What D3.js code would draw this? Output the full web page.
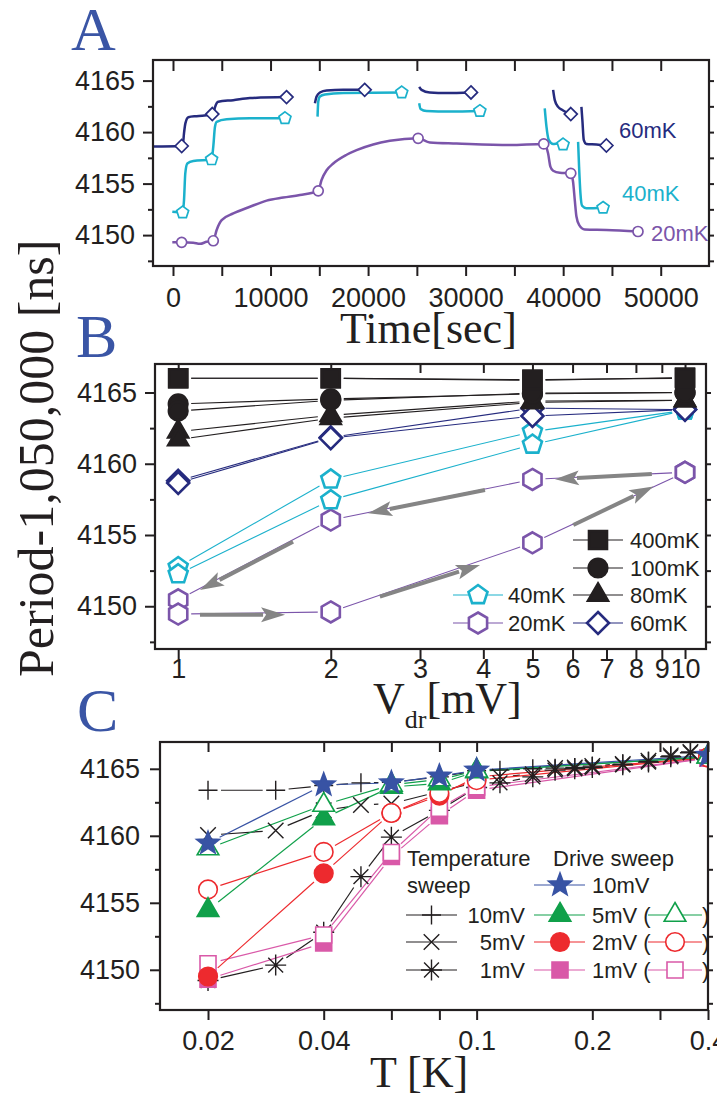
<!DOCTYPE html>
<html>
<head>
<meta charset="utf-8">
<script src="https://cdnjs.cloudflare.com/ajax/libs/d3/7.8.5/d3.min.js"></script>
<style>
  body { margin: 0; background: #fff; }
  svg { display: block; }
  .tick text { font-family: "Liberation Sans", Arial, sans-serif; font-size: 27px; fill: #231f20; }
  .tick line { stroke: #231f20; stroke-width: 2; }
  .lbl { font-family: "Liberation Sans", Arial, sans-serif; font-size: 22px; }
  .serif { font-family: "Liberation Serif", "Times New Roman", serif; fill: #231f20; }
</style>
</head>
<body>
<svg id="chart" width="717" height="1093"></svg>
<script>
// ---------------- data ----------------
// Panel A: period vs time, one array of segments per temperature
const a60Segments = [
  [[-2050,4158.6],[890,4158.65],[1000,4158.7],[1130,4159.9],[1270,4160.85],[1570,4161.45],[2420,4161.55],[3780,4161.65],[4130,4161.8],[4300,4162.4],[4640,4162.95],[6170,4163.1],[7880,4163.3],[11640,4163.4]],
  [[14550,4162.8],[14720,4163.45],[15060,4163.85],[15750,4164.05],[17450,4164.1],[19650,4164.1]],
  [[25240,4164.4],[25480,4164.1],[26330,4163.85],[28040,4163.8],[30550,4163.85]],
  [[38970,4164.1],[39140,4163.1],[39480,4162.45],[39990,4162.1],[40780,4161.75]],
  [[41870,4162.45],[41970,4161.15],[42110,4159.25],[42380,4158.85],[43410,4158.8],[44430,4158.7]]
];
const a60Marks = [[890,4158.65],[4030,4161.75],[11640,4163.4],[19650,4164.1],[30550,4163.85],[40780,4161.75],[44430,4158.7]];

const a40Segments = [
  [[-70,4152.27],[990,4152.2],[1130,4153.4],[1260,4156.0],[1470,4156.95],[2080,4157.2],[3960,4157.35],[4130,4158.6],[4300,4160.5],[4475,4161.0],[5500,4161.25],[7890,4161.35],[11480,4161.35]],
  [[14820,4161.5],[14890,4162.95],[15060,4163.45],[15570,4163.65],[17450,4163.8],[23450,4163.85]],
  [[25240,4162.8],[25380,4162.25],[25990,4162.05],[28380,4162.0],[31460,4162.05]],
  [[38110,4162.3],[38290,4160.5],[38520,4159.25],[38970,4158.85],[39480,4158.9],[39990,4158.8]],
  [[41530,4159.05],[41630,4156.65],[41770,4154.05],[41940,4152.85],[42390,4152.6],[44090,4152.65]]
];
const a40Marks = [[990,4152.2],[3960,4157.35],[11480,4161.35],[23450,4163.85],[31460,4162.05],[39990,4158.8],[44090,4152.65]];

const a20Segments = [
  [[-70,4149.3],[890,4149.3],[2080,4149.25],[2770,4149.15],[3450,4149.35],[4130,4149.45],[4475,4150.5],[4990,4151.45],[6180,4152.1],[7890,4152.75],[9600,4153.35],[11300,4153.65],[13010,4153.9],[14890,4154.3],[15230,4155.35],[15750,4156.3],[16430,4156.95],[17800,4157.8],[18820,4158.25],[20520,4158.8],[22230,4159.15],[25130,4159.4],[26330,4159.0],[29070,4158.9],[34530,4158.75],[38010,4158.85],[38450,4157.95],[38690,4156.65],[38970,4156.25],[39650,4156.05],[40780,4156.0],[41010,4155.2],[41190,4153.4],[41360,4151.8],[41630,4151.0],[42210,4150.55],[44430,4150.5],[47670,4150.35]]
];
const a20Marks = [[890,4149.3],[4130,4149.45],[14890,4154.3],[25130,4159.4],[38010,4158.85],[40780,4156.0],[47670,4150.35]];
const aLabels = ["60mK", "40mK", "20mK"];

// Panel B: period vs drive voltage, up and down sweeps
const bVolts = [1, 2, 5, 10];
const b400Up = [4166.0, 4166.0, 4165.9, 4166.0];
const b400Down = [4166.0, 4166.0, 4165.85, 4166.05];
const b100Up = [4163.7, 4164.45, 4164.95, 4165.0];
const b100Down = [4164.2, 4164.55, 4164.9, 4165.0];
const b80Up = [4161.7, 4163.2, 4164.3, 4164.45];
const b80Down = [4162.25, 4163.4, 4164.4, 4164.45];
const b60Up = [4158.65, 4161.8, 4163.35, 4163.8];
const b60Down = [4158.8, 4161.85, 4163.9, 4163.8];
const b40Up = [4152.25, 4157.45, 4161.35, 4163.75];
const b40Down = [4152.75, 4158.9, 4162.25, 4163.75];
const b20Up = [4149.45, 4149.6, 4154.45, 4159.4];
const b20Down = [4150.45, 4156.05, 4158.9, 4159.4];
const bArrows = [
  [[1.104, 4149.4], [1.625, 4149.4]],
  [[2.50, 4150.67], [3.94, 4152.9]],
  [[6.02, 4155.7], [8.66, 4158.4]],
  [[8.60, 4159.28], [5.54, 4158.92]],
  [[4.03, 4158.16], [2.37, 4156.52]],
  [[1.685, 4154.53], [1.104, 4151.14]]
];
const bLegendLabels = ["400mK", "100mK", "40mK", "80mK", "20mK", "60mK"];

// Panel C: period vs temperature
const cTemps = [0.02, 0.04, 0.06, 0.08, 0.1, 0.4];
const c10Drive = [4159.45, 4163.8, 4163.95, 4164.45, 4164.9, 4166.0];
const c5Up = [4154.45, 4161.3, 4163.65, 4163.9, 4164.8, 4165.9];
const c5Down = [4159.05, 4162.3, 4163.8, 4164.2, 4164.85, 4165.9];
const c2Up = [4149.5, 4157.2, 4161.7, 4163.0, 4164.4, 4165.85];
const c2Down = [4156.0, 4158.8, 4161.7, 4163.2, 4164.15, 4165.85];
const c1Up = [4149.3, 4152.0, 4158.45, 4161.5, 4163.4, 4165.8];
const c1Down = [4150.45, 4152.6, 4158.75, 4162.05, 4163.65, 4165.8];

const cSweepT = [0.02, 0.03, 0.04, 0.05, 0.06, 0.08, 0.1, 0.115, 0.14, 0.16, 0.18, 0.2, 0.24, 0.28, 0.32, 0.36];
const cTs10 = [4163.4, 4163.4, 4163.75, 4163.95, 4164.0, 4164.4, 4164.85, 4164.9, 4165.0, 4165.05, 4165.1, 4165.2, 4165.35, 4165.55, 4165.95, 4166.25];
const cTs5 = [4160.05, 4160.4, 4161.9, 4162.3, 4162.4, 4163.3, 4164.0, 4164.4, 4164.6, 4165.05, 4165.1, 4165.2, 4165.35, 4165.6, 4166.0, 4166.25];
const cTs1 = [4149.2, 4150.35, 4152.8, 4156.95, 4159.9, 4161.9, 4163.6, 4163.95, 4164.4, 4164.9, 4165.0, 4165.1, 4165.3, 4165.5, 4165.9, 4166.2];
const cTickLabels = [0.02, 0.04, 0.1, 0.2, 0.4];
const cLegendTemp = ["10mV", "5mV", "1mV"];
const cLegendDrive = ["10mV", "5mV (", "2mV (", "1mV ("];

// ---------------- styles ----------------
const ink = "#231f20", navy = "#262b7e", cyan = "#1bb1cc", purple = "#7b55aa";
const blue = "#3853a4", green = "#10a04a", red = "#ed2a2e", pink = "#d959a8", arrowGray = "#858585";
const letterBlue = "#3a55a5";

const svg = d3.select("#chart");

function polygon(n, r) {
  const pts = d3.range(n).map(i => {
    const a = -Math.PI / 2 + i * 2 * Math.PI / n;
    return [r * Math.cos(a), r * Math.sin(a)];
  });
  return "M" + pts.map(p => p.join(",")).join("L") + "Z";
}

function markerPath(shape, r) {
  const d = r * Math.SQRT1_2;
  switch (shape) {
    case "square": return `M${-r},${-r}H${r}V${r}H${-r}Z`;
    case "circle": return `M${r},0A${r},${r} 0 1,1 ${-r},0A${r},${r} 0 1,1 ${r},0Z`;
    case "triangle": return polygon(3, r);
    case "diamond": return polygon(4, r);
    case "pentagon": return polygon(5, r);
    case "hexagon": return polygon(6, r);
    case "star": {
      const pts = d3.range(10).map(i => {
        const a = -Math.PI / 2 + i * Math.PI / 5, rr = i % 2 ? r * 0.42 : r;
        return [rr * Math.cos(a), rr * Math.sin(a)];
      });
      return "M" + pts.map(p => p.join(",")).join("L") + "Z";
    }
    case "plus": return `M${-r},0H${r}M0,${-r}V${r}`;
    case "cross": return `M${-d},${-d}L${d},${d}M${-d},${d}L${d},${-d}`;
    case "asterisk": return `M${-r},0H${r}M0,${-r}V${r}M${-d},${-d}L${d},${d}M${-d},${d}L${d},${-d}`;
  }
}

function marker(g, x, y, shape, r, color, filled, sw) {
  const lineOnly = shape === "plus" || shape === "cross" || shape === "asterisk";
  g.append("path")
    .attr("transform", `translate(${x},${y})`)
    .attr("d", markerPath(shape, r))
    .attr("fill", lineOnly ? "none" : (filled ? color : "#fff"))
    .attr("stroke", color)
    .attr("stroke-width", sw);
  if (shape === "asterisk") {
    g.append("circle").attr("cx", x).attr("cy", y).attr("r", 1.6).attr("fill", color);
  }
}

// straight segments that stop short of the markers
function gapLines(g, pts, gap, color, width) {
  for (let i = 0; i < pts.length - 1; i++) {
    const [x1, y1] = pts[i], [x2, y2] = pts[i + 1];
    const len = Math.hypot(x2 - x1, y2 - y1);
    if (len <= 2 * gap) continue;
    const ux = (x2 - x1) / len, uy = (y2 - y1) / len;
    g.append("line")
      .attr("x1", x1 + ux * gap).attr("y1", y1 + uy * gap)
      .attr("x2", x2 - ux * gap).attr("y2", y2 - uy * gap)
      .attr("stroke", color).attr("stroke-width", width);
  }
}

function frame(box) {
  svg.append("rect")
    .attr("x", box.left).attr("y", box.top)
    .attr("width", box.right - box.left).attr("height", box.bottom - box.top)
    .attr("fill", "none").attr("stroke", ink).attr("stroke-width", 2.2);
}

function drawAxes(box, x, y, o) {
  const noDomain = g => g.select(".domain").remove();
  svg.append("g")
    .attr("transform", `translate(0,${box.bottom})`)
    .call(d3.axisBottom(x).tickValues(o.xTicks).tickSize(10).tickPadding(o.xPad).tickFormat(o.xFormat))
    .call(noDomain);
  svg.append("g")
    .attr("transform", `translate(0,${box.top})`)
    .call(d3.axisBottom(x).tickValues(o.xTicks).tickSize(o.topTick).tickFormat(""))
    .call(noDomain);
  svg.append("g")
    .attr("transform", `translate(${box.left},0)`)
    .call(d3.axisLeft(y).tickValues(o.yMajor).tickSize(10).tickPadding(o.yPad).tickFormat(d3.format("d")))
    .call(noDomain);
  svg.append("g")
    .attr("transform", `translate(${box.left},0)`)
    .call(d3.axisLeft(y).tickValues(o.yMinor).tickSize(5).tickFormat(""))
    .call(noDomain);
  svg.append("g")
    .attr("transform", `translate(${box.right},0)`)
    .call(d3.axisRight(y).tickValues(o.yMajor.concat(o.yMinor)).tickSize(5).tickFormat(""))
    .call(noDomain);
  svg.selectAll(".tick text").attr("fill", ink);
}

const yMajor = [4150, 4155, 4160, 4165];
const yMinor = [4147.5, 4152.5, 4157.5, 4162.5];

// ---------------- Panel A ----------------
const boxA = {left: 153, right: 709, top: 60, bottom: 266};
const xA = d3.scaleLinear().domain([-2050, 54950]).range([boxA.left, boxA.right]);
const yA = d3.scaleLinear().domain([4147, 4167]).range([boxA.bottom, boxA.top]);

drawAxes(boxA, xA, yA, {
  xTicks: d3.range(0, 50001, 5000), xPad: 12, topTick: 11,
  xFormat: d => d % 10000 === 0 ? d : "",
  yMajor: yMajor, yMinor: yMinor, yPad: 8
});

const lineA = d3.line().x(d => xA(d[0])).y(d => yA(d[1])).curve(d3.curveMonotoneX);
const gA = svg.append("g");
[[a60Segments, navy], [a40Segments, cyan], [a20Segments, purple]].forEach(([segs, color]) => {
  segs.forEach(seg => {
    gA.append("path").datum(seg)
      .attr("d", lineA).attr("fill", "none")
      .attr("stroke", color).attr("stroke-width", 2.5)
      .attr("stroke-linejoin", "round");
  });
});
a60Marks.forEach(d => marker(gA, xA(d[0]), yA(d[1]), "diamond", 6.5, navy, false, 1.7));
a40Marks.forEach(d => marker(gA, xA(d[0]), yA(d[1]), "pentagon", 6.3, cyan, false, 1.7));
a20Marks.forEach(d => marker(gA, xA(d[0]), yA(d[1]), "circle", 5, purple, false, 1.7));

[[619, 138, navy], [622, 201, cyan], [651, 241, purple]].forEach(([x, y, c], i) => {
  svg.append("text").attr("class", "lbl").attr("x", x).attr("y", y).attr("fill", c).text(aLabels[i]);
});
frame(boxA);

svg.append("text").attr("class", "serif").attr("x", 340).attr("y", 343)
  .style("font-size", "44px").text("Time[sec]");

// ---------------- Panel B ----------------
const boxB = {left: 155, right: 706, top: 364, bottom: 649};
const xB = d3.scaleLog().domain([0.9, 11]).range([boxB.left, boxB.right]);
const yB = d3.scaleLinear().domain([4147, 4167]).range([boxB.bottom, boxB.top]);

drawAxes(boxB, xB, yB, {
  xTicks: d3.range(1, 11), xPad: 0, topTick: 9,
  xFormat: d3.format("d"),
  yMajor: yMajor, yMinor: yMinor, yPad: 8
});

const bSeries = [
  {up: b400Up, down: b400Down, color: ink, shape: "square", r: 9, filled: true},
  {up: b100Up, down: b100Down, color: ink, shape: "circle", r: 9.3, filled: true},
  {up: b80Up, down: b80Down, color: ink, shape: "triangle", r: 11.5, filled: true},
  {up: b60Up, down: b60Down, color: navy, shape: "diamond", r: 11, filled: false},
  {up: b40Up, down: b40Down, color: cyan, shape: "pentagon", r: 10, filled: false},
  {up: b20Up, down: b20Down, color: purple, shape: "hexagon", r: 10.5, filled: false}
];
const gB = svg.append("g");
bSeries.forEach(s => {
  [s.up, s.down].forEach(vals => {
    const pts = bVolts.map((v, i) => [xB(v), yB(vals[i])]);
    gapLines(gB, pts, 13, s.color, 1.1);
  });
});

// gray hysteresis arrows
bArrows.forEach(([p0, p1]) => {
  const x0 = xB(p0[0]), y0 = yB(p0[1]), x1 = xB(p1[0]), y1 = yB(p1[1]);
  const len = Math.hypot(x1 - x0, y1 - y0), ux = (x1 - x0) / len, uy = (y1 - y0) / len;
  const head = 24, half = 7.5;
  const bx = x1 - ux * head, by = y1 - uy * head;
  gB.append("line").attr("x1", x0).attr("y1", y0).attr("x2", bx + ux * 2).attr("y2", by + uy * 2)
    .attr("stroke", arrowGray).attr("stroke-width", 4);
  gB.append("path")
    .attr("d", `M${x1},${y1}L${bx - uy * half},${by + ux * half}L${bx + ux * 5},${by + uy * 5}L${bx + uy * half},${by - ux * half}Z`)
    .attr("fill", arrowGray);
});

bSeries.slice().reverse().forEach(s => {
  [s.down, s.up].forEach(vals => {
    bVolts.forEach((v, i) => marker(gB, xB(v), yB(vals[i]), s.shape, s.r, s.color, s.filled, 2.6));
  });
});

// legend B
const bLegendSlots = [
  {s: 0, col: 1, row: 0}, {s: 1, col: 1, row: 1}, {s: 4, col: 0, row: 2},
  {s: 2, col: 1, row: 2}, {s: 5, col: 0, row: 3}, {s: 3, col: 1, row: 3}
];
bLegendSlots.forEach((slot, i) => {
  const s = bSeries[slot.s];
  const x0 = slot.col ? 573 : 453, y0 = [540, 568, 595, 623][slot.row];
  gB.append("line").attr("x1", x0).attr("x2", x0 + 50).attr("y1", y0).attr("y2", y0)
    .attr("stroke", s.color).attr("stroke-width", 1.1);
  marker(gB, x0 + 25, y0, s.shape, s.r, s.color, s.filled, 2.6);
  gB.append("text").attr("class", "lbl").attr("x", x0 + (slot.col ? 57 : 55)).attr("y", y0)
    .attr("dy", "0.36em").attr("fill", ink).text(bLegendLabels[i]);
});
frame(boxB);

const vLabel = svg.append("text").attr("class", "serif").attr("x", 373).attr("y", 713).style("font-size", "44px");
vLabel.append("tspan").text("V");
vLabel.append("tspan").attr("dy", 15).style("font-size", "26px").text("dr");
vLabel.append("tspan").attr("dy", -15).text("[mV]");

// ---------------- Panel C ----------------
const boxC = {left: 160, right: 708, top: 742, bottom: 1010};
const xC = d3.scaleLog().domain([0.015, 0.4]).range([boxC.left, boxC.right]);
const yC = d3.scaleLinear().domain([4147, 4167]).range([boxC.bottom, boxC.top]);

drawAxes(boxC, xC, yC, {
  xTicks: [0.02, 0.04, 0.06, 0.08, 0.1, 0.2, 0.3, 0.4], xPad: 11, topTick: 10,
  xFormat: d => cTickLabels.includes(d) ? d : "",
  yMajor: yMajor, yMinor: yMinor, yPad: 10
});

svg.append("clipPath").attr("id", "clipC")
  .append("rect").attr("x", 0).attr("y", 0).attr("width", boxC.right).attr("height", 1093);
const gC = svg.append("g").attr("clip-path", "url(#clipC)");

const cSweeps = [
  {vals: cTs10, shape: "plus", r: 9.5},
  {vals: cTs5, shape: "cross", r: 11},
  {vals: cTs1, shape: "asterisk", r: 10.5}
];
const cDrive = [
  {vals: c1Up, color: pink, shape: "square", r: 8, filled: true},
  {vals: c1Down, color: pink, shape: "square", r: 8, filled: false},
  {vals: c2Up, color: red, shape: "circle", r: 9.3, filled: true},
  {vals: c2Down, color: red, shape: "circle", r: 9.3, filled: false},
  {vals: c5Up, color: green, shape: "triangle", r: 12.5, filled: true},
  {vals: c5Down, color: green, shape: "triangle", r: 12.5, filled: false},
  {vals: c10Drive, color: blue, shape: "star", r: 12, filled: true}
];

cSweeps.forEach(s => gapLines(gC, cSweepT.map((t, i) => [xC(t), yC(s.vals[i])]), 13, ink, 1.2));
cDrive.forEach(s => gapLines(gC, cTemps.map((t, i) => [xC(t), yC(s.vals[i])]), 13, s.color, 1.2));
cSweeps.forEach(s => cSweepT.forEach((t, i) => marker(gC, xC(t), yC(s.vals[i]), s.shape, s.r, ink, false, 1.4)));
cDrive.forEach(s => cTemps.forEach((t, i) => marker(gC, xC(t), yC(s.vals[i]), s.shape, s.r, s.color, s.filled, 1.6)));

// legend C
const gL = svg.append("g");
gL.append("text").attr("class", "lbl").attr("x", 407).attr("y", 866).attr("fill", ink).text("Temperature");
gL.append("text").attr("class", "lbl").attr("x", 407).attr("y", 893).attr("fill", ink).text("sweep");
gL.append("text").attr("class", "lbl").attr("x", 553).attr("y", 866).attr("fill", ink).text("Drive sweep");
const legRows = [885, 915, 942, 970];
cSweeps.forEach((s, i) => {
  const y0 = legRows[i + 1];
  gL.append("line").attr("x1", 406).attr("x2", 457).attr("y1", y0).attr("y2", y0).attr("stroke", ink).attr("stroke-width", 1.2);
  marker(gL, 431.5, y0, s.shape, s.r, ink, false, 1.4);
  gL.append("text").attr("class", "lbl").attr("x", 525).attr("y", y0).attr("dy", "0.36em")
    .attr("text-anchor", "end").attr("fill", ink).text(cLegendTemp[i]);
});
[6, 4, 2, 0].forEach((k, i) => {
  const s = cDrive[k], y0 = legRows[i];
  gL.append("line").attr("x1", 534).attr("x2", 585).attr("y1", y0).attr("y2", y0).attr("stroke", s.color).attr("stroke-width", 1.2);
  marker(gL, 560, y0, s.shape, s.r, s.color, true, 1.6);
  gL.append("text").attr("class", "lbl").attr("x", 592).attr("y", y0).attr("dy", "0.36em")
    .attr("fill", ink).text(cLegendDrive[i]);
  if (k < 6) {
    const o = cDrive[k + 1];
    gL.append("line").attr("x1", 648).attr("x2", 702).attr("y1", y0).attr("y2", y0).attr("stroke", o.color).attr("stroke-width", 1.2);
    marker(gL, 675, y0, o.shape, o.r, o.color, false, 1.6);
    gL.append("text").attr("class", "lbl").attr("x", 702).attr("y", y0).attr("dy", "0.36em")
      .attr("fill", ink).text(")");
  }
});
frame(boxC);

svg.append("text").attr("class", "serif").attr("x", 370).attr("y", 1087)
  .style("font-size", "44px").text("T [K]");

// ---------------- shared labels ----------------
svg.append("text").attr("class", "serif")
  .attr("transform", "translate(53,677) rotate(-90)")
  .style("font-size", "50px").text("Period-1,050,000 [ns]");

[["A", 71, 50], ["B", 76, 357], ["C", 77, 731]].forEach(([t, x, y]) => {
  svg.append("text").attr("class", "serif").attr("x", x).attr("y", y)
    .style("font-size", "62px").style("fill", letterBlue).text(t);
});
</script>
</body>
</html>
